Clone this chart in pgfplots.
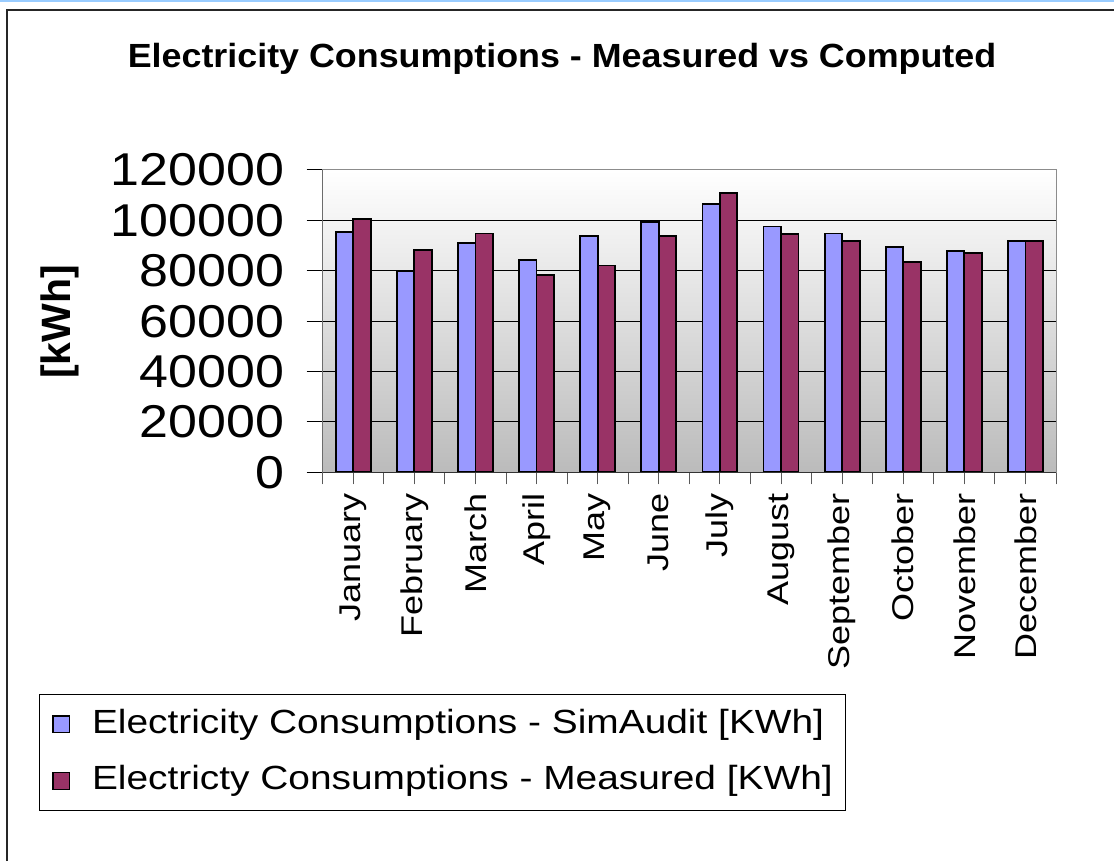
\documentclass[border=0pt]{standalone}
\usepackage{fontspec}
\setmainfont{Liberation Sans}
\newfontfamily\tickfont[FakeStretch=1.13]{Liberation Sans}
\newfontfamily\legfont[FakeStretch=1.16]{Liberation Sans}
\newfontfamily\xlabfont[FakeStretch=1.2]{Liberation Sans}
\newfontfamily\titlefont[FakeStretch=1.07]{Liberation Sans}
\usepackage{pgfplots}
\pgfplotsset{compat=1.18}

\definecolor{simblue}{RGB}{153,153,255}
\definecolor{measred}{RGB}{153,51,102}
\definecolor{bgbottom}{RGB}{187,187,187}
\definecolor{topblue}{RGB}{153,204,255}

% monthly values, kWh
\pgfplotstableread{
x sim meas
0 95500 100500
1 80000 88100
2 91100 94800
3 84400 78400
4 93900 82100
5 99200 93900
6 106600 111000
7 97600 94700
8 94800 91800
9 89500 83600
10 88000 87200
11 91800 91800
}\elec

\begin{document}
\begin{tikzpicture}
\useasboundingbox (0,0) rectangle (668.4pt,516.6pt);
\fill[topblue] (0,515.4pt) rectangle (668.4pt,516.6pt);
\draw[black!85, line width=1.2pt] (4.2pt,0) -- (4.2pt,510.6pt) -- (668.4pt,510.6pt);
\node[font=\titlefont\bfseries\fontsize{20.1}{24}\selectfont, anchor=base] at (337.2pt,475.8pt)
  {Electricity Consumptions - Measured vs Computed};
\node[rotate=90, font=\bfseries\fontsize{24.6}{28}\selectfont] at (36pt,323.4pt) {[kWh]};

\begin{axis}[
  at={(193.6pt,233.2pt)}, anchor=south west,
  width=440pt, height=181.4pt, scale only axis,
  xmin=-0.5, xmax=11.5, ymin=0, ymax=120000,
  xtick={-0.5,0.5,...,11.5}, xticklabels={},
  extra x ticks={0,...,11},
  extra x tick labels={January,February,March,April,May,June,July,August,September,October,November,December},
  extra x tick style={major tick length=0pt, tick style={draw=none}},
  ytick={0,20000,...,120000},
  tick pos=left,
  scaled y ticks=false,
  /pgf/number format/assume math mode=true,
  yticklabel style={/pgf/number format/fixed, /pgf/number format/1000 sep={},
    font=\tickfont\fontsize{27.6}{30}\selectfont, xshift=-10pt},
  xticklabel style={rotate=90, anchor=east, font=\xlabfont\fontsize{18}{20}\selectfont},
  xticklabel shift=9pt,
  tick align=outside,
  major tick length=9.6pt,
  ytick style={draw=black, line width=0.6pt},
  xtick style={draw=black!65, line width=0.6pt, /pgfplots/major tick length=7.2pt},
  axis line style={draw=black!45, line width=0.6pt},
  axis background/.style={shade, top color=white, bottom color=bgbottom},
  ymajorgrids, major grid style={black, line width=0.6pt},
  legend cell align=left,
  legend style={at={(-0.3869,-0.7334)}, anchor=north west, draw=black, line width=0.6pt,
    font=\legfont\fontsize{20.1}{24}\selectfont, inner xsep=7.8pt, inner ysep=8.5pt,
    row sep=15.6pt, nodes={inner sep=0pt, text depth=4pt}},
]
\addplot[ybar, bar width=0.286, bar shift=-0.143, fill=simblue, draw=black, line width=1.1pt,
  legend image code/.code={\draw[fill=simblue, draw=black, line width=0.8pt] (0pt,-5pt) rectangle (10pt,5pt); \path (22.8pt,0pt);}]
  table[x=x, y=sim] {\elec};
\addlegendentry{Electricity Consumptions - SimAudit [KWh]}
\addplot[ybar, bar width=0.286, bar shift=0.143, fill=measred, draw=black, line width=1.1pt,
  legend image code/.code={\draw[fill=measred, draw=black, line width=0.8pt] (0pt,-5pt) rectangle (10pt,5pt); \path (22.8pt,0pt);}]
  table[x=x, y=meas] {\elec};
\addlegendentry{Electricty Consumptions - Measured [KWh]}
\draw[black!80, line width=0.6pt] (rel axis cs:0,1) -- (rel axis cs:0,0) -- (rel axis cs:1,0);
\end{axis}
\end{tikzpicture}
\end{document}
